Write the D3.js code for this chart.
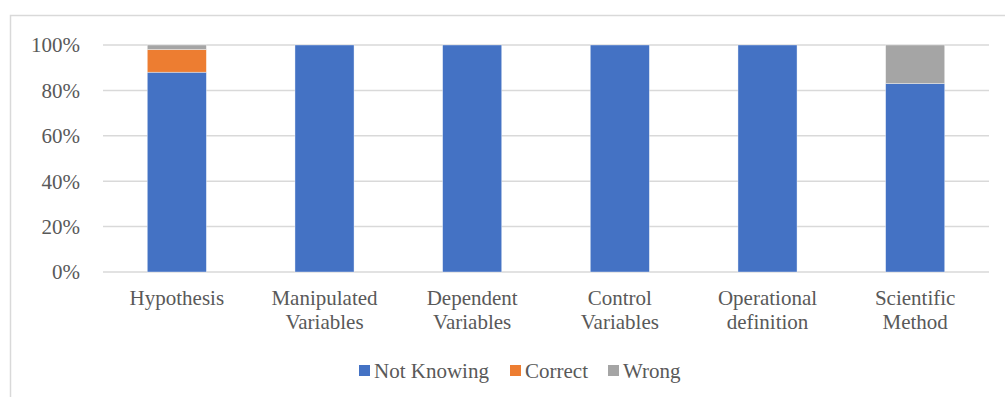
<!DOCTYPE html>
<html>
<head>
<meta charset="utf-8">
<script src="https://cdn.jsdelivr.net/npm/d3@7"></script>
<style>
  html, body { margin: 0; padding: 0; background: #fff; }
  svg { display: block; }
  text { font-family: "Liberation Serif", "Times New Roman", serif; fill: #595959; }
</style>
</head>
<body>
<svg id="chart" width="1005" height="397"></svg>
<script>
// Categories (each label split into lines)
const categories = [
  ["Hypothesis"],
  ["Manipulated", "Variables"],
  ["Dependent", "Variables"],
  ["Control", "Variables"],
  ["Operational", "definition"],
  ["Scientific", "Method"]
];
// Series values, percent of answers
const notKnowing = [88, 100, 100, 100, 100, 83];
const correct    = [10, 0, 0, 0, 0, 0];
const wrong      = [2, 0, 0, 0, 0, 17];
const seriesNames = ["Not Knowing", "Correct", "Wrong"];
const seriesColors = ["#4472C4", "#ED7D31", "#A5A5A5"];
const yTicks = [0, 20, 40, 60, 80, 100];

const svg = d3.select("#chart");

// outer chart frame
svg.append("rect")
  .attr("x", 10.5).attr("y", 15.5)
  .attr("width", 1100).attr("height", 500)
  .attr("fill", "none").attr("stroke", "#d9d9d9").attr("stroke-width", 1.5);

const plot = { left: 103, right: 989, top: 45, bottom: 272 };

const keys = categories.map((c, i) => i);
const x = d3.scaleBand().domain(keys).range([plot.left, plot.right]).paddingInner(0.6).paddingOuter(0.3);
const y = d3.scaleLinear().domain([0, 100]).range([plot.bottom, plot.top]);

// gridlines
svg.append("g").selectAll("line").data(yTicks).join("line")
  .attr("x1", plot.left).attr("x2", plot.right)
  .attr("y1", d => y(d)).attr("y2", d => y(d))
  .attr("stroke", "#d9d9d9").attr("stroke-width", 1.5);

// y tick labels
svg.append("g").selectAll("text").data(yTicks).join("text")
  .attr("x", 80).attr("y", d => y(d))
  .attr("dy", "0.35em")
  .attr("text-anchor", "end")
  .attr("font-size", 21)
  .text(d => d + "%");

// stacked bars
const rows = keys.map(i => ({ i, nk: notKnowing[i], c: correct[i], w: wrong[i] }));
const stack = d3.stack().keys(["nk", "c", "w"])(rows);

svg.append("g").selectAll("g").data(stack).join("g")
  .attr("fill", (d, k) => seriesColors[k])
  .selectAll("rect").data(d => d.filter(p => p[1] > p[0])).join("rect")
  .attr("x", p => x(p.data.i))
  .attr("width", x.bandwidth())
  .attr("y", p => y(p[1]))
  .attr("height", p => y(p[0]) - y(p[1]))
  .attr("stroke", "#ffffff").attr("stroke-opacity", 0.5).attr("stroke-width", 0.75);

// category labels
const catG = svg.append("g").selectAll("text").data(categories).join("text")
  .attr("x", (d, i) => x(i) + x.bandwidth() / 2)
  .attr("y", 305)
  .attr("text-anchor", "middle")
  .attr("font-size", 21);
catG.selectAll("tspan").data(d => d).join("tspan")
  .attr("x", function() { return d3.select(this.parentNode).attr("x"); })
  .attr("dy", (d, j) => j === 0 ? 0 : 24)
  .text(d => d);

// legend
const legendX = [359, 510, 608];
const lg = svg.append("g").selectAll("g").data(seriesNames).join("g")
  .attr("transform", (d, k) => `translate(${legendX[k]},365)`);
lg.append("rect").attr("width", 11).attr("height", 11).attr("fill", (d, k) => seriesColors[k]);
lg.append("text").attr("x", 15).attr("y", 5.5).attr("dy", "0.35em")
  .attr("font-size", 21).text(d => d);
</script>
</body>
</html>
